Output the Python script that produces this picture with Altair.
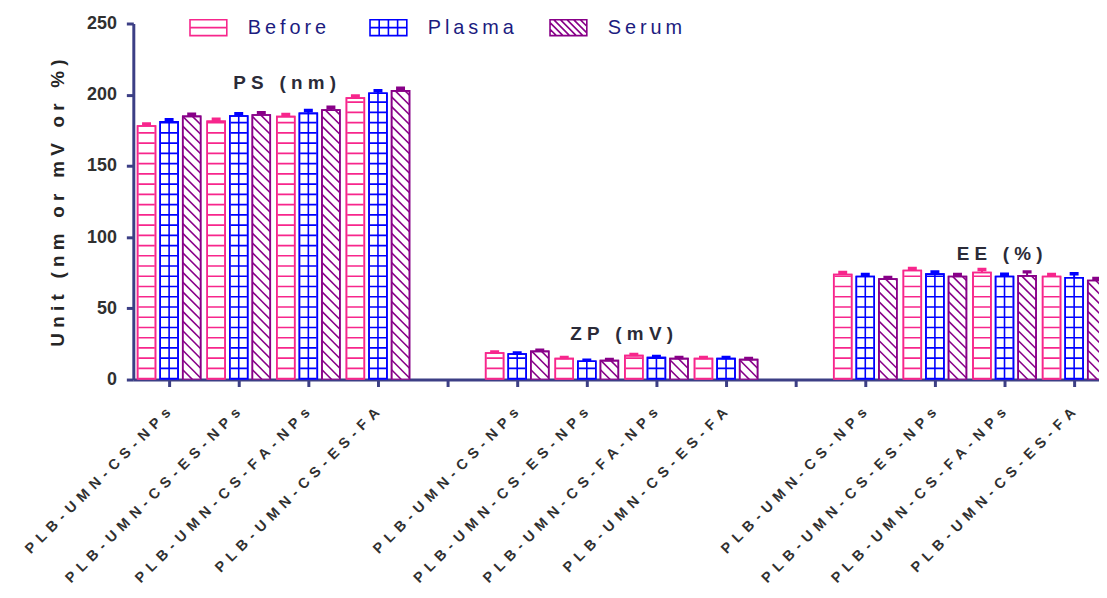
import altair as alt
import pandas as pd

# ---------------- data ----------------
GROUPS = ["PS (nm)", "ZP (mV)", "EE (%)"]
FORMULATIONS = ["PLB-UMN-CS-NPs", "PLB-UMN-CS-ES-NPs", "PLB-UMN-CS-FA-NPs", "PLB-UMN-CS-ES-FA"]
SERIES = ["Before", "Plasma", "Serum"]

PS_BEFORE = [178.0, 181.3, 184.6, 197.6]
PS_PLASMA = [180.9, 185.0, 186.9, 201.0]
PS_SERUM = [184.8, 185.8, 189.2, 202.7]
ZP_BEFORE = [18.6, 14.7, 16.8, 14.7]
ZP_PLASMA = [17.9, 12.8, 15.4, 14.7]
ZP_SERUM = [19.8, 13.3, 14.7, 14.0]
EE_BEFORE = [73.8, 76.6, 75.2, 72.4]
EE_PLASMA = [72.4, 74.0, 72.4, 71.5]
EE_SERUM = [70.5, 72.4, 72.8, 69.5]

PS_BEFORE_ERR = [1.5, 1.5, 1.5, 1.5]
PS_PLASMA_ERR = [1.5, 1.6, 2.0, 1.8]
PS_SERUM_ERR = [1.5, 1.5, 2.0, 1.8]
ZP_BEFORE_ERR = [0.8, 0.8, 0.8, 0.8]
ZP_PLASMA_ERR = [0.8, 0.8, 0.8, 0.8]
ZP_SERUM_ERR = [0.8, 0.8, 0.8, 0.8]
EE_BEFORE_ERR = [1.4, 1.4, 2.0, 1.4]
EE_PLASMA_ERR = [1.4, 1.5, 1.5, 2.8]
EE_SERUM_ERR = [1.2, 1.4, 2.8, 1.4]

Y_TICKS = [0, 50, 100, 150, 200, 250]
Y_TITLE = "Unit (nm or mV or %)"
X_TICK_LABELS = FORMULATIONS + [""] + FORMULATIONS + [""] + FORMULATIONS

VALUES = [[PS_BEFORE, PS_PLASMA, PS_SERUM],
          [ZP_BEFORE, ZP_PLASMA, ZP_SERUM],
          [EE_BEFORE, EE_PLASMA, EE_SERUM]]
ERRORS = [[PS_BEFORE_ERR, PS_PLASMA_ERR, PS_SERUM_ERR],
          [ZP_BEFORE_ERR, ZP_PLASMA_ERR, ZP_SERUM_ERR],
          [EE_BEFORE_ERR, EE_PLASMA_ERR, EE_SERUM_ERR]]

# ---------------- layout / style ----------------
FONT = "Liberation Sans, Arial, Helvetica, sans-serif"
NAVY = "#3C3F85"
LEGEND_TXT = "#1C1C80"
TICK_TXT = "#303030"
COLORS = ["#F7268C", "#0000FF", "#880088"]

# wide letter tracking of the original (GraphPad style) via spacing characters
PUNCT_SP = "\u2008"
THIN_SP = "\u2009"


def tracked(text, sep):
    return sep.join(list(text))


W, H = 971, 358
Y_MAX = 250
SLOT_PX = 70.0
FIRST_SLOT_PX = 36.0
X_MIN = -FIRST_SLOT_PX / SLOT_PX
X_MAX = (W - FIRST_SLOT_PX) / SLOT_PX
PX_PER_UNIT = H / Y_MAX
BAR_PX = 18.0
BAR_STEP_PX = 22.7
CAP_PX = 9.0
HATCH_GAP_PX = 9.8

rows = []
for gi in range(len(GROUPS)):
    for ci in range(len(FORMULATIONS)):
        slot = gi * 5 + ci
        for si, s in enumerate(SERIES):
            v = VALUES[gi][si][ci]
            e = ERRORS[gi][si][ci]
            c = slot + (si - 1) * BAR_STEP_PX / SLOT_PX
            rows.append(dict(group=GROUPS[gi], formulation=FORMULATIONS[ci], series=s,
                             value=v, err=e, top=v + e, base=0.0, center=c,
                             left=c - BAR_PX / 2 / SLOT_PX, right=c + BAR_PX / 2 / SLOT_PX,
                             capl=c - CAP_PX / 2 / SLOT_PX, capr=c + CAP_PX / 2 / SLOT_PX))
df = pd.DataFrame(rows)

# diagonal hatch segments for the Serum bars, derived from the bar values
hrows = []
for _, r in df[df.series == "Serum"].iterrows():
    hb = r.value * PX_PER_UNIT
    k = 1
    while k * HATCH_GAP_PX < hb + BAR_PX:
        cc = k * HATCH_GAP_PX
        u1 = max(0.0, cc - hb)
        u2 = min(BAR_PX, cc)
        if u2 > u1:
            hrows.append(dict(x=r.left + u1 / SLOT_PX, x2=r.left + u2 / SLOT_PX,
                              y=(cc - u1) / PX_PER_UNIT, y2=(cc - u2) / PX_PER_UNIT))
        k += 1
hatch = pd.DataFrame(hrows)

ANN_X = [1.66, 6.5, 11.93]
ANN_Y = [208, 32, 88]
ann = pd.DataFrame(dict(label=[tracked(g, PUNCT_SP) for g in GROUPS], ax=ANN_X, ay=ANN_Y))

# legend symbols (custom paths)
A = 8 / 18.5
RECT = f"M-1,{-A:.3f}H1V{A:.3f}H-1Z"
PATH_BEFORE = RECT + " M-1,0H1"
PATH_PLASMA = RECT + f" M-1,0H1 M-0.5,{-A:.3f}V{A:.3f} M0,{-A:.3f}V{A:.3f} M0.5,{-A:.3f}V{A:.3f}"
segs = []
c = -1 - A + 0.36
while c < 1 + A:
    x1 = max(-1, -A - c)
    x2 = min(1, A - c)
    if x2 > x1:
        segs.append(f"M{x1:.3f},{x1 + c:.3f}L{x2:.3f},{x2 + c:.3f}")
    c += 0.36
PATH_SERUM = RECT + " " + " ".join(segs)

xs = alt.Scale(domain=[X_MIN, X_MAX], nice=False, zero=False)
ys = alt.Scale(domain=[0, Y_MAX], nice=False, zero=True)
color_scale = alt.Scale(domain=SERIES, range=COLORS)
shape_scale = alt.Scale(domain=SERIES, range=[PATH_BEFORE, PATH_PLASMA, PATH_SERUM])

x_label_expr = "[" + ",".join("'" + tracked(t, THIN_SP * 2) + "'" for t in X_TICK_LABELS) + "][datum.value]"
legend_label_expr = " : ".join(
    f"datum.label == '{s}' ? '{tracked(s, THIN_SP)}'" for s in SERIES[:-1]
) + f" : '{tracked(SERIES[-1], THIN_SP)}'"

x_axis = alt.Axis(values=list(range(len(X_TICK_LABELS))), labelExpr=x_label_expr, title=None,
                  labelAngle=-45, labelAlign="right", labelBaseline="middle",
                  labelPadding=24, labelOffset=-1, labelFont=FONT, labelFontSize=14.5,
                  labelFontWeight="bold", labelColor=TICK_TXT, labelOverlap=False,
                  labelLimit=600, labelFlush=False, tickSize=7, tickWidth=3, tickColor=NAVY,
                  domainColor=NAVY, domainWidth=3, grid=False)
y_axis = alt.Axis(values=Y_TICKS, format="d", title=tracked(Y_TITLE, PUNCT_SP),
                  titleFont=FONT, titleFontSize=19, titleFontWeight="bold", titleColor="#262626",
                  titleAngle=-90, titleX=-70, titleY=180, titleAlign="center",
                  titleBaseline="alphabetic",
                  labelFont=FONT, labelFontSize=18, labelFontWeight="bold", labelColor=TICK_TXT,
                  labelPadding=10, tickSize=7, tickWidth=3, tickColor=NAVY,
                  domainColor=NAVY, domainWidth=3, grid=False)

LEG = alt.Legend(orient="none", legendX=56, legendY=-15.5, direction="horizontal", columns=3,
                 title=None, symbolSize=1369, symbolStrokeWidth=1.6, symbolOpacity=1,
                 symbolFillColor="white", labelFont=FONT, labelFontSize=20, labelColor=LEGEND_TXT,
                 labelExpr=legend_label_expr,
                 labelOffset=20, columnPadding=32, gridAlign="all", padding=0)


def X(f):
    return alt.X(f + ":Q", scale=xs, axis=x_axis)


def Y(f):
    return alt.Y(f + ":Q", scale=ys, axis=y_axis)


stroke = alt.Stroke("series:N", scale=color_scale, legend=LEG)

bars = alt.Chart(df).mark_rect(fill="white", strokeWidth=1.6, clip=True).encode(
    x=X("left"), x2="right", y=Y("value"), y2="base", stroke=stroke)

hlines = alt.Chart(df).transform_filter(alt.datum.series != "Serum").mark_rule(
    strokeWidth=16.5, strokeDash=[1.7, 8.6], clip=True).encode(
    x=X("center"), y=Y("base"), y2="value", stroke=stroke)

vlines = alt.Chart(df).transform_filter(alt.datum.series == "Plasma").mark_rule(
    strokeWidth=1.6, color=COLORS[1], clip=True).encode(
    x=X("center"), y=Y("base"), y2="value")

hatch_layer = alt.Chart(hatch).mark_rule(strokeWidth=1.6, color=COLORS[2], clip=True).encode(
    x=X("x"), x2="x2", y=Y("y"), y2="y2")

outline = alt.Chart(df).mark_rect(fillOpacity=0, strokeWidth=1.6, clip=True).encode(
    x=X("left"), x2="right", y=Y("value"), y2="base", stroke=stroke)

stems = alt.Chart(df).mark_rule(strokeWidth=2, clip=True).encode(
    x=X("center"), y=Y("value"), y2="top", stroke=stroke)

caps = alt.Chart(df).mark_rule(strokeWidth=3.5, clip=True).encode(
    x=X("capl"), x2="capr", y=Y("top"), stroke=stroke)

legend_pts = alt.Chart(df).mark_point(filled=False, opacity=0).encode(
    x=X("center"), y=Y("value"), stroke=stroke,
    shape=alt.Shape("series:N", scale=shape_scale, legend=LEG))

labels = alt.Chart(ann).mark_text(font=FONT, fontSize=19, fontWeight="bold", color="#2B2B38",
                                  align="center", baseline="middle").encode(
    x=X("ax"), y=Y("ay"), text="label:N")

chart = alt.layer(bars, hlines, vlines, hatch_layer, outline, stems, caps, legend_pts, labels).properties(
    width=W, height=H,
    autosize=alt.AutoSizeParams(type="none"),
    padding={"left": 126, "top": 14, "right": 0, "bottom": 205},
).configure_view(stroke=None)

chart.save("out.html", embed_options={"renderer": "svg", "actions": False})
